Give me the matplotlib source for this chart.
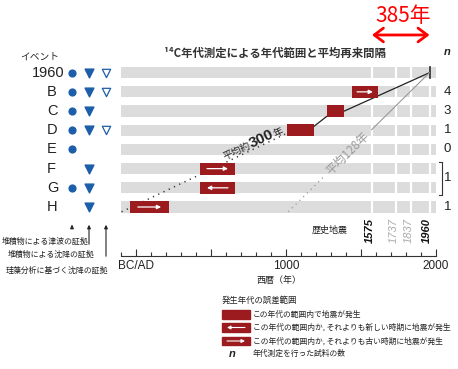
import numpy as np
import matplotlib
matplotlib.use('Agg')
import matplotlib.pyplot as plt
import matplotlib.transforms as mtransforms
from matplotlib.patches import Rectangle, FancyArrowPatch

JP = ['Noto Sans CJK JP', 'DejaVu Sans']
LAT = ['Liberation Sans', 'DejaVu Sans']
RED = '#9b1b1f'
BLUE = '#1d5eaa'
GRAY_BAR = '#dcdcdc'

# ---------------- data ----------------
events = ['1960', 'B', 'C', 'D', 'E', 'F', 'G', 'H']
rows = [7, 6, 5, 4, 3, 2, 1, 0]
tsunami_evidence = [1, 1, 1, 1, 1, 0, 1, 0]
subsidence_evidence = [1, 1, 1, 1, 0, 1, 1, 1]
diatom_evidence = [1, 1, 0, 1, 0, 0, 0, 0]
range_start = [np.nan, 1440, 1272, 1009, np.nan, 425, 425, -43]
range_end = [np.nan, 1617, 1390, 1187, np.nan, 659, 659, 217]
range_arrow = ['', 'right', '', '', '', 'right', 'left', 'right']
n_samples = ['', '4', '3', '1', '0', '', '', '1']
n_bracket_rows = [1, 2]
n_bracket_value = '1'

hist_years = [1575, 1737, 1837, 1960]
hist_bold = [True, False, False, True]

mean300_x = [-100, 1009]
mean300_y = [-0.25, 3.85]
trend_x = [1187, 1272, 1390, 1960]
trend_y = [4.2, 4.72, 5.0, 7.0]
mean128_x = [1015, 1960]
mean128_y = [-0.25, 7.0]

x_major = [0, 500, 1000, 1500, 2000]
x_major_labels = ['BC/AD', '', '1000', '', '2000']
x_minor = list(range(-100, 2001, 100))

W, H = 458, 369
fig = plt.figure(figsize=(W / 100, H / 100), dpi=100)
ax = fig.add_axes([121.5 / W, 113 / H, 314 / W, 256 / H])
ax.set_xlim(-100, 2000)
ax.set_ylim(-2.553, 10.787)
for s in ['top', 'left', 'right']:
    ax.spines[s].set_visible(False)
ax.spines['bottom'].set_color('#333333')
ax.spines['bottom'].set_linewidth(0.8)
ax.set_yticks([])
ax.set_xticks(x_major)
ax.set_xticklabels(x_major_labels, fontfamily=LAT, fontsize=8.5, color='#222222')
ax.set_xticks(x_minor, minor=True)
ax.tick_params(axis='x', which='major', direction='in', length=5, width=0.8,
               color='#333333', pad=3)
ax.tick_params(axis='x', which='minor', direction='in', length=3, width=0.8,
               color='#333333')
ax.set_xlabel('西暦（年）', fontfamily=JP, fontsize=6.5, labelpad=3, color='#222222')

# gray bars
ax.barh(rows, 2100, left=-100, height=0.58, color=GRAY_BAR, zorder=1)
ax.vlines(hist_years, -0.4, 7.4, color='white', lw=1.6, zorder=2)

# lines
ax.plot(mean300_x, mean300_y, color='#333333', lw=1.1, ls=(0, (0.8, 3.0)), zorder=3)
ax.plot(trend_x, trend_y, color='#222222', lw=0.9, zorder=3)
ax.plot([1960, 1960], [6.7, 7.3], color='#222222', lw=1.2, zorder=3)
seg1 = np.array([1015, 1250])
ax.plot(seg1, np.interp(seg1, mean128_x, mean128_y), color='#999999', lw=1.0,
        ls=(0, (0.8, 3.0)), zorder=3)
seg2 = np.array([1573, 1960])
ax.plot(seg2, np.interp(seg2, mean128_x, mean128_y), color='#999999', lw=0.8, zorder=3)

# red range boxes
for r, a, b, d in zip(rows, range_start, range_end, range_arrow):
    if np.isnan(a):
        continue
    ax.barh(r, b - a, left=a, height=0.62, color=RED, zorder=4)
    if d:
        x0, x1 = a + 0.2 * (b - a), a + 0.8 * (b - a)
        if d == 'left':
            x0, x1 = x1, x0
        ax.annotate('', xy=(x1, r), xytext=(x0, r),
                    arrowprops=dict(arrowstyle='-|>', color='white', lw=0.9,
                                    mutation_scale=6, shrinkA=0, shrinkB=0),
                    zorder=5)

# left side: event labels and evidence markers
trans = mtransforms.blended_transform_factory(fig.transFigure, ax.transData)
for ev, r in zip(events, rows):
    if len(ev) > 1:
        ax.text(64.5 / W, r, ev, transform=trans, ha='right', va='center',
                fontfamily=LAT, fontsize=10.5, color='#222222')
    else:
        ax.text(47 / W, r, ev, transform=trans, ha='left', va='center',
                fontfamily=LAT, fontsize=10.5, color='#222222')
ax.text(40 / W, 7 + (72.7 - 57) / 19.19, 'イベント', transform=trans, ha='center',
        va='center', fontfamily=JP, fontsize=7, color='#222222')

rr = np.array(rows)
m1 = np.array(tsunami_evidence, bool)
m2 = np.array(subsidence_evidence, bool)
m3 = np.array(diatom_evidence, bool)
ax.scatter(np.full(m1.sum(), 72 / W), rr[m1], transform=trans, marker='o', s=24,
           color=BLUE, clip_on=False, zorder=5)
ax.scatter(np.full(m2.sum(), 89 / W), rr[m2], transform=trans, marker='v', s=40,
           color=BLUE, clip_on=False, zorder=5)
ax.scatter(np.full(m3.sum(), 106 / W), rr[m3], transform=trans, marker='v', s=36,
           facecolor='white', edgecolor=BLUE, linewidth=0.9, clip_on=False, zorder=5)

# evidence arrows & labels
ev_labels = ['堆積物による津波の証拠', '堆積物による沈降の証拠', '珪藻分析に基づく沈降の証拠']
ev_x = [72, 89, 106]
ev_tail = [230, 247, 259]
ev_text_x = [88, 94, 108]
ev_text_y = [241, 254, 270]
for lab, x, t, tx, ty in zip(ev_labels, ev_x, ev_tail, ev_text_x, ev_text_y):
    fig.add_artist(FancyArrowPatch((x / W, 1 - t / H), (x / W, 1 - 222 / H),
                                   transform=fig.transFigure, arrowstyle='-|>',
                                   mutation_scale=5, lw=0.8, color='#222222'))
    fig.text(tx / W, 1 - ty / H, lab, ha='right', va='center', fontfamily=JP,
             fontsize=5.7, color='#222222')

# title and n column
fig.text(275 / W, 1 - 53 / H, '¹⁴C年代測定による年代範囲と平均再来間隔', ha='center',
         va='center', fontfamily=JP, fontsize=8.2, fontweight='bold', color='#333333')
ax.text(447.5 / W, 7 + (72.7 - 52) / 19.19, 'n', transform=trans, ha='center',
        va='center', fontfamily=LAT, fontsize=8, fontweight='bold', style='italic',
        color='#222222')
for r, n in zip(rows, n_samples):
    if n:
        ax.text(447.5 / W, r, n, transform=trans, ha='center', va='center',
                fontfamily=LAT, fontsize=9.5, color='#222222')
b0, b1 = min(n_bracket_rows) - 0.37, max(n_bracket_rows) + 0.37
bx0, bx1 = 439 / W, 442 / W
ax.plot([bx0, bx1, bx1, bx0], [b0, b0, b1, b1], transform=trans, color='#333333',
        lw=0.8, clip_on=False)
ax.text(447.5 / W, np.mean(n_bracket_rows), n_bracket_value, transform=trans,
        ha='center', va='center', fontfamily=LAT, fontsize=9.5, color='#222222')

# historical earthquakes
ylab = (207 - 230) / 19.19
ax.text(1415, ylab, '歴史地震', ha='right', va='center', fontfamily=JP, fontsize=6.5,
        color='#222222')
off = mtransforms.offset_copy(ax.transData, fig=fig, x=-2.5, y=0, units='dots')
for yr, bold in zip(hist_years, hist_bold):
    ax.text(yr, ylab, str(yr), transform=off, rotation=90, ha='center', va='center',
            fontfamily=LAT, fontsize=8, style='italic',
            fontweight='bold' if bold else 'normal',
            color='#111111' if bold else '#aaaaaa')

# mean recurrence labels
fig.canvas.draw()
renderer = fig.canvas.get_renderer()
p0 = ax.transData.transform((mean300_x[0], mean300_y[0]))
p1 = ax.transData.transform((mean300_x[1], mean300_y[1]))
u = (p1 - p0) / np.linalg.norm(p1 - p0)
nv = np.array([-u[1], u[0]])
ang = np.degrees(np.arctan2(u[1], u[0]))
start_x = 600
start = ax.transData.transform((start_x, np.interp(start_x, mean300_x, mean300_y))) + nv * 2.0
pieces = [('平均約', 7, 'normal', JP), ('300', 11, 'bold', LAT), ('年', 7, 'normal', JP)]
cur = 0.0
for s, fs, fw, fam in pieces:
    tmp = ax.text(0, 0, s, fontsize=fs, fontweight=fw, fontfamily=fam)
    w = tmp.get_window_extent(renderer).width
    tmp.remove()
    pos = ax.transData.inverted().transform(start + u * cur)
    ax.text(pos[0], pos[1], s, fontsize=fs, fontweight=fw, fontfamily=fam,
            rotation=ang, rotation_mode='anchor', ha='left', va='baseline',
            color='#222222', zorder=6)
    cur += w

q0 = ax.transData.transform((mean128_x[0], mean128_y[0]))
q1 = ax.transData.transform((mean128_x[1], mean128_y[1]))
u2 = (q1 - q0) / np.linalg.norm(q1 - q0)
ang2 = np.degrees(np.arctan2(u2[1], u2[0]))
cx = 1411
ax.text(cx, np.interp(cx, mean128_x, mean128_y), '平均128年', fontfamily=JP,
        fontsize=8.5, color='#999999', rotation=ang2, rotation_mode='anchor',
        ha='center', va='center', zorder=6)

# top red annotation (interval between 1575 and 1960)
ya = 7 + (72.7 - 35) / 19.19
ax.add_patch(FancyArrowPatch((hist_years[0], ya), (hist_years[-1], ya),
                             arrowstyle='<->,head_length=0.6,head_width=0.45',
                             mutation_scale=11, lw=2, color='#ff0000',
                             clip_on=False, shrinkA=0, shrinkB=0))
ax.text((hist_years[0] + hist_years[-1]) / 2 + 15, 7 + (72.7 - 16) / 19.19,
        f'{hist_years[-1] - hist_years[0]}年', ha='center', va='center',
        fontfamily=JP, fontsize=15, color='#ff0000', clip_on=False)

# legend
fig.text(222 / W, 1 - 300 / H, '発生年代の誤差範囲', ha='left', va='center',
         fontfamily=JP, fontsize=6, color='#222222')
leg_texts = ['この年代の範囲内で地震が発生',
             'この年代の範囲内か, それよりも新しい時期に地震が発生',
             'この年代の範囲内か, それよりも古い時期に地震が発生']
leg_arrows = ['', 'left', 'right']
leg_y = [314.5, 327.5, 341]
for t, d, yc in zip(leg_texts, leg_arrows, leg_y):
    fig.add_artist(Rectangle((221.5 / W, 1 - (yc + 4.3) / H), 28.5 / W, 8.6 / H,
                             transform=fig.transFigure, color=RED))
    if d:
        xa, xb = 227, 245
        if d == 'left':
            xa, xb = xb, xa
        fig.add_artist(FancyArrowPatch((xa / W, 1 - yc / H), (xb / W, 1 - yc / H),
                                       transform=fig.transFigure, arrowstyle='-|>',
                                       mutation_scale=5, lw=0.8, color='white',
                                       shrinkA=0, shrinkB=0))
    fig.text(253 / W, 1 - yc / H, t, ha='left', va='center', fontfamily=JP,
             fontsize=5.6, color='#222222')
fig.text(232 / W, 1 - 354 / H, 'n', ha='center', va='center', fontfamily=LAT,
         fontsize=8, fontweight='bold', style='italic', color='#222222')
fig.text(253 / W, 1 - 354 / H, '年代測定を行った試料の数', ha='left', va='center',
         fontfamily=JP, fontsize=5.6, color='#222222')

fig.savefig('out.png', dpi=100)
